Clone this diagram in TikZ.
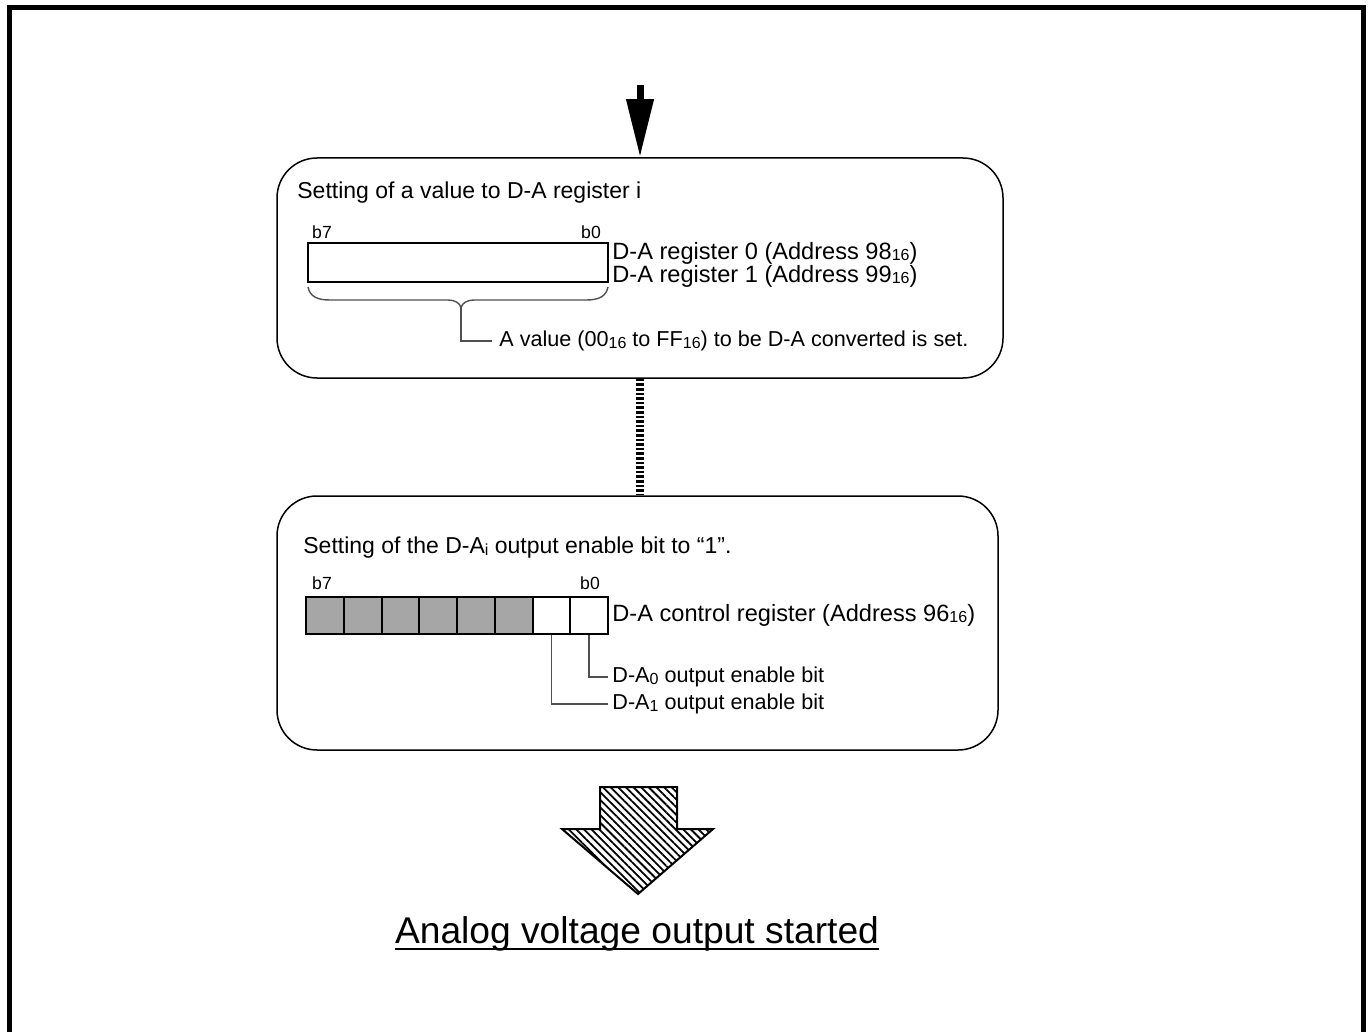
\documentclass[tikz,border=0pt]{standalone}
\usepackage{fontspec}
\setmainfont{Liberation Sans}
\usetikzlibrary{arrows.meta,patterns.meta,positioning}
\definecolor{dacInk}{HTML}{000000}
\definecolor{dacLead}{HTML}{505050}
\definecolor{dacShade}{HTML}{A6A6A6}
\newcommand{\hexsub}[1]{\raisebox{-0.15ex}{\fontsize{8}{9}\selectfont #1}}
\tikzset{
  dac diagram/.style={x=0.5pt, y=-0.5pt, text=dacInk,
    font=\fontsize{11.8}{14}\selectfont},
  dac step box/.style={draw=dacInk, line width=0.75pt, rounded corners=20pt,
    inner sep=0pt},
  dac register/.style={draw=dacInk, line width=1pt, fill=white,
    minimum width=150pt, minimum height=19.5pt, inner sep=0pt},
  dac cell/.style={draw=dacInk, line width=1pt,
    minimum width=18.875pt, minimum height=18.5pt, inner sep=0pt},
  dac bit/.style={font=\fontsize{8.8}{10}\selectfont, inner sep=0pt},
  dac text/.style={anchor=west, inner sep=0pt},
  dac note/.style={dac text, font=\fontsize{10.8}{12}\selectfont},
  dac lead/.style={draw=dacLead, line width=0.7pt},
  dac feed/.style={-{Triangle[length=29pt,width=13pt]}, line width=3.5pt},
  dac dotted link/.style={line width=4pt, dash pattern=on 1.3pt off 1pt},
  dac hatch/.style={draw=dacInk, line width=1pt, line join=miter,
    pattern={Lines[angle=-45,distance=2.7pt,line width=0.9pt]}},
  dac result/.style={font=\fontsize{18.6}{22}\selectfont, inner sep=0pt,
    anchor=base}
}
\begin{document}
\begin{tikzpicture}[dac diagram]
\useasboundingbox (0,0) rectangle (1369,1032);
% open frame
\draw[line width=2.5pt] (9.5,1040) -- (9.5,7.5) -- (1363.5,7.5) -- (1363.5,1040);
% step 1: value to D-A register i
\node[dac step box, minimum width=363pt, minimum height=110pt] (regstep) at (640,268) {};
\coordinate (feed) at (640,85);
\draw[dac feed] (feed) -- (regstep.north);
\node[dac text, font=\fontsize{11.5}{14}\selectfont] (regtitle) at (297,193) {Setting of a value to D-A register i};
\node[dac bit] (regb7) at (322,232) {b7};
\node[dac bit] (regb0) at (591,232) {b0};
\node[dac register] (reg) at (458,262.5) {};
\node[dac text] (regname0) at (612,253) {D-A register 0 (Address 98\hexsub{16})};
\node[dac text] (regname1) at (612,276) {D-A register 1 (Address 99\hexsub{16})};
\coordinate (bracetip) at (461,308);
\draw[dac lead] (308,287) .. controls (310,297) and (318,300) .. (330,300)
  -- (448,300) .. controls (455,300) and (460,303) .. (bracetip)
  .. controls (462,303) and (467,300) .. (474,300)
  -- (586,300) .. controls (598,300) and (606,297) .. (608,287);
\node[dac note] (valnote) at (499,341) {A value (00\hexsub{16} to FF\hexsub{16}) to be D-A converted is set.};
\draw[dac lead] (bracetip) |- ([xshift=-3.5pt]valnote.west);
% step 2: output enable bit
\node[dac step box, minimum width=360.5pt, minimum height=127pt] (enstep) at (637.5,623) {};
\draw[dac dotted link] (regstep.south) -- (regstep.south |- enstep.north);
\node[dac text, font=\fontsize{11.5}{14}\selectfont] (entitle) at (303,548) {Setting of the D-A\hexsub{i} output enable bit to “1”.};
\node[dac bit] (enb7) at (322,583) {b7};
\node[dac bit] (enb0) at (590,583) {b0};
\foreach \b/\tone [count=\k from 0] in {7/dacShade,6/dacShade,5/dacShade,4/dacShade,3/dacShade,2/dacShade,1/white,0/white}
  \node[dac cell, fill=\tone] (c\b) at ({306+37.75*(\k+0.5)},615.5) {};
\node[dac text] (ctrlname) at (612,615) {D-A control register (Address 96\hexsub{16})};
\node[dac note] (en0) at (612,677) {D-A\hexsub{0} output enable bit};
\node[dac note] (en1) at (612,704) {D-A\hexsub{1} output enable bit};
\draw[dac lead] (c0.south) |- ([xshift=-2pt]en0.west);
\draw[dac lead] (c1.south) |- ([xshift=-2pt]en1.west);
% result
\draw[dac hatch] (600,787) -- (677,787) -- (677,829) -- (713,829) -- (638,894)
  -- (562,829) -- (600,829) -- cycle;
\node[dac result] (result) at (637,943) {Analog voltage output started};
\draw[line width=1pt] ([yshift=-3pt]result.base west) -- ([yshift=-3pt]result.base east);
\end{tikzpicture}
\end{document}
